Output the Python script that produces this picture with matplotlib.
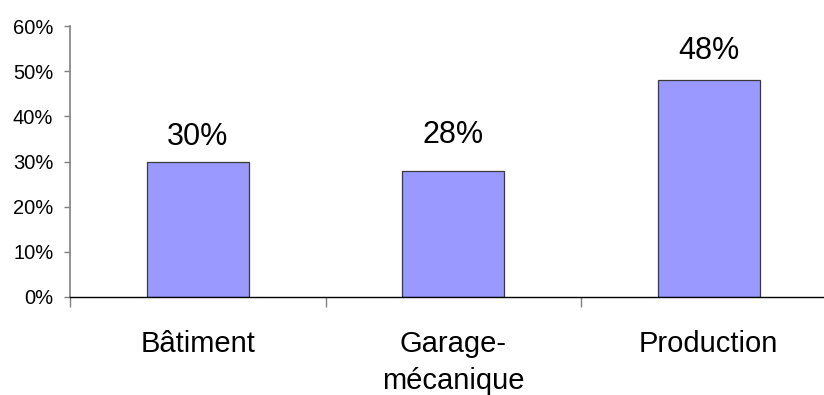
import matplotlib
matplotlib.use("Agg")
import matplotlib.pyplot as plt
from matplotlib.ticker import FixedLocator, PercentFormatter

plt.rcParams["font.family"] = ["Liberation Sans", "DejaVu Sans"]

categories = ["Bâtiment", "Garage-\nmécanique", "Production"]
values = [30, 28, 48]
label_texts = ["30%", "28%", "48%"]
# distance (points) between each bar top and its value label
label_gaps = [7, 15, 10]

fig = plt.figure(figsize=(8.24, 3.95), dpi=100)
ax = fig.add_axes([70 / 824, 98 / 395, 766.5 / 824, 271 / 395])

x = list(range(len(categories)))
ax.bar(x, values, width=0.4, color="#9999FF", edgecolor="#3a3a3a", linewidth=0.9, zorder=2)

for xi, v, t, g in zip(x, values, label_texts, label_gaps):
    ax.annotate(t, (xi, v), xytext=(0, g), textcoords="offset points",
                ha="center", va="bottom", fontsize=22, color="black")

ax.set_xlim(-0.5, len(categories) - 0.5)
ax.set_ylim(0, 60)
ax.yaxis.set_major_locator(FixedLocator(range(0, 61, 10)))
ax.yaxis.set_major_formatter(PercentFormatter(decimals=0))

ax.set_xticks(x)
ax.set_xticklabels(categories, fontsize=21, linespacing=1.4)
ax.xaxis.set_minor_locator(FixedLocator([i - 0.5 for i in range(len(categories) + 1)]))
ax.tick_params(axis="x", which="major", length=0, pad=24)
ax.tick_params(axis="x", which="minor", length=7, width=1, color="#808080", direction="out")
ax.tick_params(axis="y", which="major", length=4, width=1, color="#808080",
               direction="out", labelsize=14.5, pad=8)

for s in ("top", "right"):
    ax.spines[s].set_visible(False)
ax.spines["left"].set_color("#808080")
ax.spines["left"].set_linewidth(1.2)
ax.spines["bottom"].set_color("black")
ax.spines["bottom"].set_linewidth(1.0)

fig.savefig("out.png", dpi=100)
